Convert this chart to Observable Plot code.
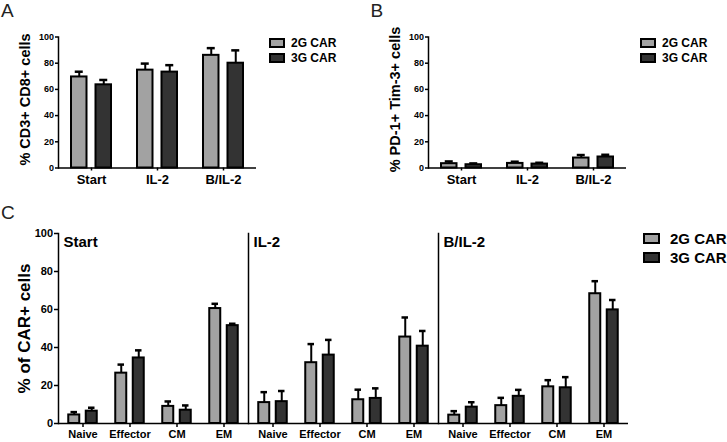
<!DOCTYPE html>
<html><head><meta charset="utf-8">
<script src="https://cdn.jsdelivr.net/npm/d3@7"></script>
<script src="https://cdn.jsdelivr.net/npm/@observablehq/plot@0.6"></script>
<style>
body{margin:0;background:#fff;}
#wrap{position:relative;width:727px;height:442px;overflow:hidden;background:#fff;font-family:"Liberation Sans",Arial,sans-serif;}
.panel{position:absolute;}
.letter{position:absolute;font-size:19px;font-weight:400;color:#222;line-height:1;}
.legend{position:absolute;font-weight:bold;color:#000;}
.legend .row{display:flex;align-items:center;white-space:nowrap;}
.legend .sw{display:inline-block;border:2px solid #000;box-sizing:border-box;}
</style></head><body><div id="wrap"></div>
<script>
// ---------- data ----------
const groups = ["Start", "IL-2", "B/IL-2"];
const series = ["2G CAR", "3G CAR"];
const seriesColors = ["#a2a2a2", "#333333"];
const yTicks = [0, 20, 40, 60, 80, 100];

const titleA = "% CD3+ CD8+ cells";
const titleB = "% PD-1+ Tim-3+ cells";
const titleC = "% of CAR+ cells";

// Panel A (by group)
const aMean2G = [69.5, 74.7, 86.0];
const aErr2G  = [4.0, 5.0, 5.5];
const aMean3G = [63.5, 73.2, 80.0];
const aErr3G  = [3.7, 5.3, 9.8];

// Panel B (by group)
const bMean2G = [3.3, 3.5, 7.6];
const bErr2G  = [1.7, 1.3, 2.3];
const bMean3G = [2.5, 3.0, 8.4];
const bErr3G  = [1.0, 1.0, 1.7];

// Panel C (by group, then category)
const cats = ["Naive", "Effector", "CM", "EM"];
const cMean2G = [[4.5, 26.5, 9.0, 60.5], [11.0, 32.0, 12.5, 45.5], [4.4, 9.4, 19.3, 68.3]];
const cErr2G  = [[1.5, 4.5, 2.6, 2.5], [5.5, 9.8, 5.3, 10.3], [2.1, 4.1, 3.5, 6.6]];
const cMean3G = [[6.5, 34.5, 7.0, 51.5], [11.5, 36.0, 13.2, 40.7], [8.6, 14.3, 18.8, 59.8]];
const cErr3G  = [[1.8, 4.0, 2.5, 1.0], [5.6, 8.0, 5.3, 8.0], [2.6, 3.4, 5.6, 5.2]];

// ---------- helpers ----------
const FONT = "Liberation Sans, Arial, sans-serif";
const wrap = document.getElementById("wrap");

function place(el, left, top) {
  el.classList.add("panel");
  el.style.left = left + "px";
  el.style.top = top + "px";
  wrap.appendChild(el);
}

function letter(t, left, top) {
  const d = document.createElement("div");
  d.className = "letter";
  d.textContent = t;
  d.style.left = left + "px";
  d.style.top = top + "px";
  wrap.appendChild(d);
}

function legend(left, top, boxW, boxH, fontSize, gap, rowH) {
  const d = document.createElement("div");
  d.className = "legend";
  d.style.left = left + "px";
  d.style.top = top + "px";
  d.style.fontSize = fontSize + "px";
  series.forEach((s, i) => {
    const r = document.createElement("div");
    r.className = "row";
    r.style.height = rowH + "px";
    const sw = document.createElement("span");
    sw.className = "sw";
    sw.style.width = boxW + "px";
    sw.style.height = boxH + "px";
    sw.style.background = seriesColors[i];
    sw.style.marginRight = gap + "px";
    const tx = document.createElement("span");
    tx.textContent = s;
    r.appendChild(sw); r.appendChild(tx);
    d.appendChild(r);
  });
  wrap.appendChild(d);
}

function smallPanel(m2, e2, m3, e3, title) {
  const r2 = groups.map((g, i) => ({g, v: m2[i], e: e2[i]}));
  const r3 = groups.map((g, i) => ({g, v: m3[i], e: e3[i]}));
  return Plot.plot({
    width: 370, height: 195,
    marginLeft: 58, marginRight: 114, marginTop: 36.5, marginBottom: 27.5,
    x: {domain: groups, padding: 0},
    y: {domain: [0, 100]},
    style: {fontFamily: FONT, color: "#000", background: "transparent", overflow: "visible"},
    marks: [
      Plot.barY(r2, {x: "g", y: "v", fill: seriesColors[0], stroke: "#000", strokeWidth: 2, insetLeft: 13, insetRight: 37.5}),
      Plot.barY(r3, {x: "g", y: "v", fill: seriesColors[1], stroke: "#000", strokeWidth: 2, insetLeft: 37.5, insetRight: 13}),
      Plot.ruleX(r2, {x: "g", y1: "v", y2: d => d.v + d.e, dx: -12.25, strokeWidth: 2}),
      Plot.ruleX(r3, {x: "g", y1: "v", y2: d => d.v + d.e, dx: 12.25, strokeWidth: 2}),
      Plot.tickY(r2, {x: "g", y: d => d.v + d.e, insetLeft: 16.75, insetRight: 41.25, strokeWidth: 2.5}),
      Plot.tickY(r3, {x: "g", y: d => d.v + d.e, insetLeft: 41.25, insetRight: 16.75, strokeWidth: 2.5}),
      Plot.ruleY([0], {strokeWidth: 1.5}),
      Plot.frame({anchor: "left", strokeWidth: 1.5}),
      Plot.axisY({ticks: yTicks, tickSize: 3, tickPadding: 1.5, fontSize: 9, fontWeight: "bold", label: null, strokeWidth: 1.5}),
      Plot.axisX({tickSize: 3, tickPadding: 3.5, fontSize: 13, fontWeight: "bold", label: null, strokeWidth: 1.5}),
      Plot.text([title], {text: d => d, frameAnchor: "left", textAnchor: "middle", rotate: -90, dx: -33, dy: -3, fontSize: 14.5, fontWeight: "bold"})
    ]
  });
}

// ---------- panel A ----------
place(smallPanel(aMean2G, aErr2G, aMean3G, aErr3G, titleA), 0, 0);
legend(269, 35, 16, 10, 12, 6, 15);
letter("A", 1, 0.5);

// ---------- panel B ----------
place(smallPanel(bMean2G, bErr2G, bMean3G, bErr3G, titleB), 370, 0);
legend(640, 35, 16, 10, 12, 6, 15);
letter("B", 370.5, 0.5);

// ---------- panel C ----------
const c2 = [], c3 = [];
groups.forEach((t, gi) => cats.forEach((c, ci) => {
  c2.push({t, c, v: cMean2G[gi][ci], e: cErr2G[gi][ci]});
  c3.push({t, c, v: cMean3G[gi][ci], e: cErr3G[gi][ci]});
}));

const plotC = Plot.plot({
  width: 640, height: 247,
  marginLeft: 58, marginRight: 12, marginTop: 38, marginBottom: 19,
  fx: {domain: groups, padding: 0, axis: null},
  x: {domain: cats, padding: 0},
  y: {domain: [0, 100]},
  style: {fontFamily: FONT, color: "#000", background: "transparent", overflow: "visible"},
  marks: [
    Plot.barY(c2, {fx: "t", x: "c", y: "v", fill: seriesColors[0], stroke: "#000", strokeWidth: 2, insetLeft: 9.25, insetRight: 26.75}),
    Plot.barY(c3, {fx: "t", x: "c", y: "v", fill: seriesColors[1], stroke: "#000", strokeWidth: 2, insetLeft: 26.75, insetRight: 9.25}),
    Plot.ruleX(c2, {fx: "t", x: "c", y1: "v", y2: d => d.v + d.e, dx: -8.75, strokeWidth: 2}),
    Plot.ruleX(c3, {fx: "t", x: "c", y1: "v", y2: d => d.v + d.e, dx: 8.75, strokeWidth: 2}),
    Plot.tickY(c2, {fx: "t", x: "c", y: d => d.v + d.e, insetLeft: 11.5, insetRight: 29, strokeWidth: 2.5}),
    Plot.tickY(c3, {fx: "t", x: "c", y: d => d.v + d.e, insetLeft: 29, insetRight: 11.5, strokeWidth: 2.5}),
    Plot.ruleY([0], {strokeWidth: 1.5}),
    Plot.frame({anchor: "left", strokeWidth: 1.5}),
    Plot.axisY({ticks: yTicks, tickSize: 4, tickPadding: 1.5, fontSize: 11, fontWeight: "bold", label: null, strokeWidth: 1.5}),
    Plot.axisX({tickSize: 4, tickPadding: 3, fontSize: 11, fontWeight: "bold", label: null, strokeWidth: 1.5}),
    Plot.text(groups, {fx: d => d, text: d => d, frameAnchor: "top-left", dx: 5, dy: 3, fontSize: 15, fontWeight: "bold"}),
    Plot.text([titleC], {text: d => d, frameAnchor: "left", textAnchor: "middle", rotate: -90, dx: -34, fontSize: 17, fontWeight: "bold", facet: "super"})
  ]
});
place(plotC, 0, 195);
legend(643, 229, 17, 11, 15, 10, 19);
letter("C", 1, 202.5);
</script>
</body></html>
